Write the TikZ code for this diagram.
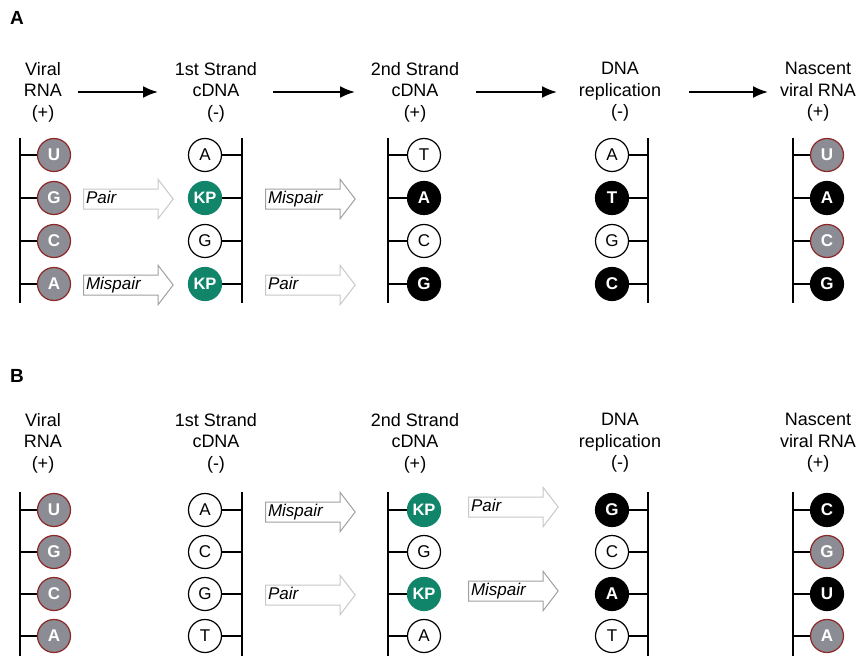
\documentclass[tikz,border=0pt]{standalone}
\usepackage{fontspec}
\setmainfont{Liberation Sans}
\usetikzlibrary{shapes.arrows,arrows.meta}
\definecolor{rnagray}{RGB}{140,140,148}
\definecolor{rnared}{RGB}{140,40,40}
\definecolor{kpgreen}{RGB}{17,133,106}
\definecolor{pairgray}{RGB}{200,200,200}
\definecolor{misgray}{RGB}{160,160,160}
\begin{document}
\begin{tikzpicture}[x=1pt,y=-1pt,
  nuc/.style={circle, minimum size=33pt, inner sep=0pt, line width=1.2pt, font=\fontsize{17}{17}\selectfont},
  wn/.style={nuc, draw=black, fill=white, text=black},
  bn/.style={nuc, draw=black, fill=black, text=white, font=\fontsize{17}{17}\selectfont\bfseries},
  rn/.style={nuc, draw=rnared, fill=rnagray, text=white, font=\fontsize{17}{17}\selectfont\bfseries},
  kp/.style={nuc, draw=kpgreen, fill=kpgreen, text=white, font=\fontsize{16.5}{16.5}\selectfont\bfseries},
  hdr/.style={align=center, font=\fontsize{18}{21.5}\selectfont, inner sep=0pt},
  backbone/.style={line width=1.6pt},
  tick/.style={line width=1.3pt},
  harrow/.style={line width=2pt, -{Latex[length=15pt,width=12pt]}},
  bigarrow/.style={single arrow, single arrow head extend=9.5pt, single arrow tip angle=105, fill=white, line width=1pt, text width=77pt, align=left, inner xsep=2pt, inner ysep=2pt, text height=11.5pt, text depth=3.5pt, font=\fontsize{17}{17}\selectfont\itshape, anchor=west},
  pairar/.style={bigarrow, draw=pairgray},
  misar/.style={bigarrow, draw=misgray},
  panel/.style={font=\fontsize{19}{19}\selectfont\bfseries, anchor=center}
]
\fill[white] (0,0) rectangle (860,661);
\useasboundingbox (0,0) rectangle (860,661);

% ---------------- Panel A ----------------
\node[panel] (pA) at (17,18) {A};
\node[hdr] (hA1) at (43,92) {Viral\\RNA\\(+)};
\node[hdr] (hA2) at (216,92) {1st Strand\\cDNA\\(-)};
\node[hdr] (hA3) at (415,92) {2nd Strand\\cDNA\\(+)};
\node[hdr] (hA4) at (620,92) {DNA\\replication\\(-)};
\node[hdr] (hA5) at (818,92) {Nascent\\viral RNA\\(+)};
\coordinate (aA1s) at (78,92);  \coordinate (aA1e) at (158,92);
\coordinate (aA2s) at (273,92); \coordinate (aA2e) at (355,92);
\coordinate (aA3s) at (476,92); \coordinate (aA3e) at (557,92);
\coordinate (aA4s) at (689,92); \coordinate (aA4e) at (768,92);
\draw[harrow] (aA1s) -- (aA1e);
\draw[harrow] (aA2s) -- (aA2e);
\draw[harrow] (aA3s) -- (aA3e);
\draw[harrow] (aA4s) -- (aA4e);

% strand A1
\coordinate (A1t) at (20,138); \coordinate (A1b) at (20,303);
\draw[backbone] (A1t) -- (A1b);
\node[rn] (A1n1) at (54,155) {U};
\node[rn] (A1n2) at (54,198) {G};
\node[rn] (A1n3) at (54,241) {C};
\node[rn] (A1n4) at (54,284) {A};
\foreach \i in {1,...,4} \draw[tick] (A1n\i.west) -- (A1n\i.west -| A1t);

% strand A2
\coordinate (A2t) at (242,138); \coordinate (A2b) at (242,303);
\draw[backbone] (A2t) -- (A2b);
\node[wn] (A2n1) at (205,155) {A};
\node[kp] (A2n2) at (205,198) {KP};
\node[wn] (A2n3) at (205,241) {G};
\node[kp] (A2n4) at (205,284) {KP};
\foreach \i in {1,...,4} \draw[tick] (A2n\i.east) -- (A2n\i.east -| A2t);

% strand A3
\coordinate (A3t) at (388,138); \coordinate (A3b) at (388,303);
\draw[backbone] (A3t) -- (A3b);
\node[wn] (A3n1) at (424,155) {T};
\node[bn] (A3n2) at (424,198) {A};
\node[wn] (A3n3) at (424,241) {C};
\node[bn] (A3n4) at (424,284) {G};
\foreach \i in {1,...,4} \draw[tick] (A3n\i.west) -- (A3n\i.west -| A3t);

% strand A4
\coordinate (A4t) at (648,138); \coordinate (A4b) at (648,303);
\draw[backbone] (A4t) -- (A4b);
\node[wn] (A4n1) at (612,155) {A};
\node[bn] (A4n2) at (612,198) {T};
\node[wn] (A4n3) at (612,241) {G};
\node[bn] (A4n4) at (612,284) {C};
\foreach \i in {1,...,4} \draw[tick] (A4n\i.east) -- (A4n\i.east -| A4t);

% strand A5
\coordinate (A5t) at (793,138); \coordinate (A5b) at (793,303);
\draw[backbone] (A5t) -- (A5b);
\node[rn] (A5n1) at (827,155) {U};
\node[bn] (A5n2) at (827,198) {A};
\node[rn] (A5n3) at (827,241) {C};
\node[bn] (A5n4) at (827,284) {G};
\foreach \i in {1,...,4} \draw[tick] (A5n\i.west) -- (A5n\i.west -| A5t);

% big hollow arrows A
\node[pairar] (bA1) at (83,199) {Pair};
\node[misar] (bA2) at (83,285) {Mispair};
\node[misar] (bA3) at (265,199) {Mispair};
\node[pairar] (bA4) at (265,285) {Pair};

% ---------------- Panel B ----------------
\node[panel] (pB) at (17,376) {B};
\node[hdr] (hB1) at (43,443) {Viral\\RNA\\(+)};
\node[hdr] (hB2) at (216,443) {1st Strand\\cDNA\\(-)};
\node[hdr] (hB3) at (415,443) {2nd Strand\\cDNA\\(+)};
\node[hdr] (hB4) at (620,443) {DNA\\replication\\(-)};
\node[hdr] (hB5) at (818,443) {Nascent\\viral RNA\\(+)};

% strand B1
\coordinate (B1t) at (20,492); \coordinate (B1b) at (20,656);
\draw[backbone] (B1t) -- (B1b);
\node[rn] (B1n1) at (54,510) {U};
\node[rn] (B1n2) at (54,552) {G};
\node[rn] (B1n3) at (54,594) {C};
\node[rn] (B1n4) at (54,636) {A};
\foreach \i in {1,...,4} \draw[tick] (B1n\i.west) -- (B1n\i.west -| B1t);

% strand B2
\coordinate (B2t) at (242,492); \coordinate (B2b) at (242,656);
\draw[backbone] (B2t) -- (B2b);
\node[wn] (B2n1) at (205,510) {A};
\node[wn] (B2n2) at (205,552) {C};
\node[wn] (B2n3) at (205,594) {G};
\node[wn] (B2n4) at (205,636) {T};
\foreach \i in {1,...,4} \draw[tick] (B2n\i.east) -- (B2n\i.east -| B2t);

% strand B3
\coordinate (B3t) at (388,492); \coordinate (B3b) at (388,656);
\draw[backbone] (B3t) -- (B3b);
\node[kp] (B3n1) at (424,510) {KP};
\node[wn] (B3n2) at (424,552) {G};
\node[kp] (B3n3) at (424,594) {KP};
\node[wn] (B3n4) at (424,636) {A};
\foreach \i in {1,...,4} \draw[tick] (B3n\i.west) -- (B3n\i.west -| B3t);

% strand B4
\coordinate (B4t) at (648,492); \coordinate (B4b) at (648,656);
\draw[backbone] (B4t) -- (B4b);
\node[bn] (B4n1) at (612,510) {G};
\node[wn] (B4n2) at (612,552) {C};
\node[bn] (B4n3) at (612,594) {A};
\node[wn] (B4n4) at (612,636) {T};
\foreach \i in {1,...,4} \draw[tick] (B4n\i.east) -- (B4n\i.east -| B4t);

% strand B5
\coordinate (B5t) at (793,492); \coordinate (B5b) at (793,656);
\draw[backbone] (B5t) -- (B5b);
\node[bn] (B5n1) at (827,510) {C};
\node[rn] (B5n2) at (827,552) {G};
\node[bn] (B5n3) at (827,594) {U};
\node[rn] (B5n4) at (827,636) {A};
\foreach \i in {1,...,4} \draw[tick] (B5n\i.west) -- (B5n\i.west -| B5t);

% big hollow arrows B
\node[misar] (bB1) at (265,512) {Mispair};
\node[pairar] (bB2) at (265,595) {Pair};
\node[pairar] (bB3) at (468,507) {Pair};
\node[misar] (bB4) at (468,591) {Mispair};
\end{tikzpicture}
\end{document}
